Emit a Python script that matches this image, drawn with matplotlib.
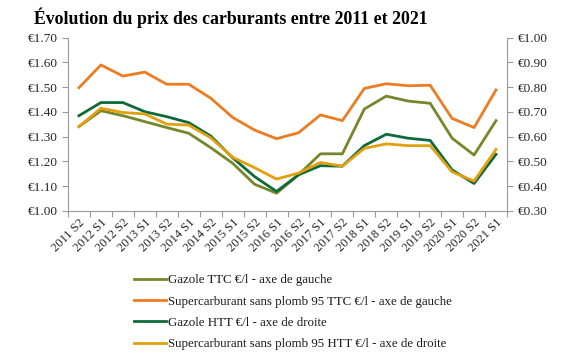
import matplotlib
matplotlib.use("Agg")
import matplotlib.pyplot as plt
import numpy as np
from matplotlib.ticker import FixedLocator, FuncFormatter

categories = ["2011 S2", "2012 S1", "2012 S2", "2013 S1", "2013 S2", "2014 S1", "2014 S2",
              "2015 S1", "2015 S2", "2016 S1", "2016 S2", "2017 S1", "2017 S2", "2018 S1",
              "2018 S2", "2019 S1", "2019 S2", "2020 S1", "2020 S2", "2021 S1"]

gazole_ttc = [1.341, 1.405, 1.385, 1.361, 1.337, 1.314, 1.256, 1.193, 1.108, 1.072,
              1.146, 1.231, 1.231, 1.412, 1.464, 1.444, 1.435, 1.294, 1.226, 1.365]
super_ttc = [1.498, 1.590, 1.545, 1.561, 1.512, 1.512, 1.456, 1.378, 1.327, 1.292,
             1.316, 1.388, 1.365, 1.495, 1.514, 1.506, 1.508, 1.374, 1.337, 1.489]
gazole_htt = [0.685, 0.738, 0.738, 0.701, 0.681, 0.657, 0.603, 0.515, 0.439, 0.379,
              0.446, 0.483, 0.481, 0.564, 0.610, 0.594, 0.585, 0.466, 0.411, 0.529]
super_htt = [0.641, 0.715, 0.698, 0.692, 0.651, 0.647, 0.596, 0.517, 0.475, 0.429,
             0.453, 0.496, 0.481, 0.553, 0.571, 0.564, 0.564, 0.458, 0.421, 0.549]

labels = ["Gazole TTC €/l - axe de gauche",
          "Supercarburant sans plomb 95 TTC €/l - axe de gauche",
          "Gazole HTT €/l - axe de droite",
          "Supercarburant sans plomb 95 HTT €/l - axe de droite"]
colors = ["#76862A", "#EC7C22", "#0C6A3B", "#E2A00E"]

serif = ["Liberation Serif", "DejaVu Serif"]
plt.rcParams['font.family'] = serif

fig = plt.figure(figsize=(5.78, 3.56), dpi=100)
ax = fig.add_axes([68/578, 1-211/356, (507-68)/578, (211-37.7)/356])
ax2 = ax.twinx()

x = np.arange(len(categories))
lw = 2.0
l1, = ax.plot(x, gazole_ttc, color=colors[0], lw=lw, zorder=3)
l2, = ax.plot(x, super_ttc, color=colors[1], lw=lw, zorder=3)
l3, = ax2.plot(x, gazole_htt, color=colors[2], lw=lw, zorder=3)
l4, = ax2.plot(x, super_htt, color=colors[3], lw=lw, zorder=3)

ax.set_xlim(-0.5, len(categories) - 0.5)
ax.set_ylim(1.0, 1.7)
ax2.set_ylim(0.3, 1.0)
ax.set_yticks(np.arange(1.0, 1.701, 0.1))
ax2.set_yticks(np.arange(0.3, 1.001, 0.1))
fmt = FuncFormatter(lambda v, p: "€%.2f" % v)
ax.yaxis.set_major_formatter(fmt)
ax2.yaxis.set_major_formatter(fmt)

ax.set_xticks(x)
ax.set_xticklabels(categories, rotation=45, ha="right", rotation_mode="anchor")
ax.xaxis.set_minor_locator(FixedLocator(np.arange(-0.5, len(categories), 1.0)))
ax.tick_params(axis="x", which="major", length=0, pad=4)
ax.tick_params(axis="x", which="minor", length=4, color="#999999", width=0.8)

for a in (ax, ax2):
    a.spines["top"].set_visible(False)
    a.spines["left"].set_color("#999999")
    a.spines["right"].set_color("#999999")
    a.spines["bottom"].set_color("#999999")
    a.tick_params(axis="y", length=4, color="#999999", width=0.8, labelsize=9.5,
                  labelcolor="#262626")
ax.tick_params(axis="x", labelsize=9, labelcolor="#262626")
ax.spines["right"].set_visible(False)
ax2.spines["left"].set_visible(False)
ax2.spines["bottom"].set_visible(False)

fig.text(231/578, 1-18/356, "Évolution du prix des carburants entre 2011 et 2021",
         ha="center", va="center", fontsize=12.8, fontweight="bold", color="black")

leg = fig.legend([l1, l2, l3, l4], labels, loc="upper left",
                 bbox_to_anchor=(129/578, 1-269/356), frameon=False,
                 fontsize=9.3, handlelength=2.5, handletextpad=0.15,
                 labelspacing=0.72, borderaxespad=0)
for t in leg.get_texts():
    t.set_color("#1a1a1a")

fig.savefig("out.png", dpi=100)
